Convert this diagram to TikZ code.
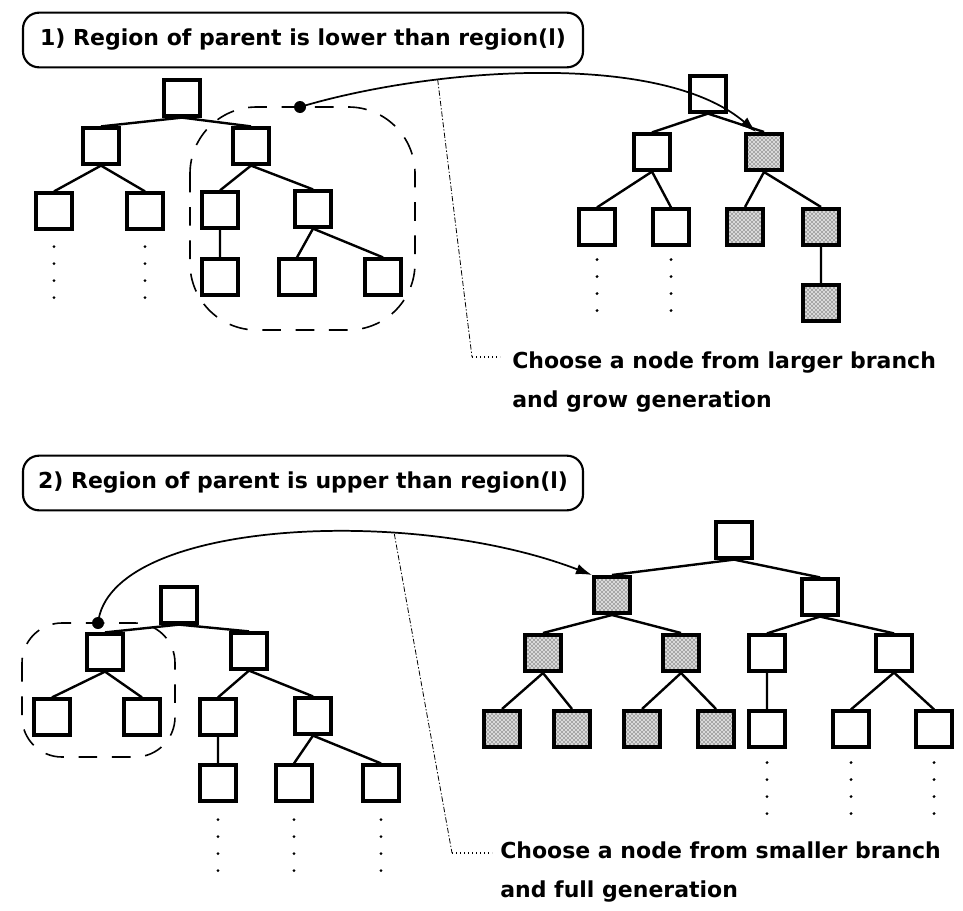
\documentclass[tikz,border=0pt]{standalone}
\usepackage{fontspec}
\setmainfont{DejaVu Sans}
\usetikzlibrary{positioning, arrows.meta, calc, patterns}

\begin{document}
\begin{tikzpicture}[
  x=0.75pt, y=-0.75pt,
  font=\bfseries\fontsize{16.5}{29}\selectfont,
  cell/.style={draw, line width=2.4pt, minimum size=27pt, inner sep=0pt},
  picked/.style={cell, line width=3pt, preaction={fill=gray!30}, pattern=crosshatch dots},
  link/.style={line width=1.8pt},
  more/.style={line width=2.4pt, line cap=round, dash pattern=on 0pt off 12.75pt},
  region/.style={dashed, line width=1.2pt, dash pattern=on 14pt off 11pt},
  blob/.style={circle, fill, inner sep=0pt, minimum size=9pt},
  jump/.style={line width=1.3pt, -{Latex[length=12pt,width=8pt]}},
  lead/.style={line width=0.6pt, dash pattern=on 4pt off 1.5pt on 1pt off 1.5pt},
  leaddot/.style={line width=0.8pt, dash pattern=on 1pt off 2pt},
  title/.style={draw, line width=1.6pt, rounded corners=12pt,
                minimum width=420pt, minimum height=41pt, inner xsep=6pt},
  note/.style={align=left, inner sep=0pt, anchor=north west}
]
\useasboundingbox (0,0) rectangle (963,910);

% ---------- case 1 ----------
\node[title] (head1) at (303,40) {1) Region of parent is lower than region(l)};

% left tree
\node[cell] (aR) at (182,98) {};
\node[cell] (aA) at (101,146) {};
\node[cell] (aB) at (251,146) {};
\node[cell] (aAL) at (54,211) {};
\node[cell] (aAR) at (145,211) {};
\node[cell] (aBL) at (220,210) {};
\node[cell] (aBR) at (313,209) {};
\node[cell] (aBLL) at (220,277) {};
\node[cell] (aBRL) at (297,277) {};
\node[cell] (aBRR) at (383,277) {};
\draw[link] (aR.south) -- (aA.north) (aR.south) -- (aB.north)
  (aA.south) -- (aAL.north) (aA.south) -- (aAR.north)
  (aB.south) -- (aBL.north) (aB.south) -- (aBR.north)
  (aBL.south) -- (aBLL.north)
  (aBR.south) -- (aBRL.north) (aBR.south) -- (aBRR.north);
\draw[more] (aAL.south) ++(0,16) -- ++(0,53);
\draw[more] (aAR.south) ++(0,16) -- ++(0,53);
\draw[region, rounded corners=50pt] (190,107) rectangle (415,330);

% right tree
\node[cell] (bR) at (708,94) {};
\node[cell] (bA) at (652,152) {};
\node[picked] (bB) at (764,152) {};
\node[cell] (bAL) at (597,227) {};
\node[cell] (bAR) at (671,227) {};
\node[picked] (bBL) at (745,227) {};
\node[picked] (bBR) at (821,227) {};
\node[picked] (bBRL) at (821,303) {};
\draw[link] (bR.south) -- (bA.north) (bR.south) -- (bB.north)
  (bA.south) -- (bAL.north) (bA.south) -- (bAR.north)
  (bB.south) -- (bBL.north) (bB.south) -- (bBR.north)
  (bBR.south) -- (bBRL.north);
\draw[more] (bAL.south) ++(0,13) -- ++(0,53);
\draw[more] (bAR.south) ++(0,13) -- ++(0,53);

% moved branch
\node[blob] (src1) at (300,107) {};
\draw[jump] (src1.center) .. controls (430,68) and (660,50) ..
  ($(bB.north west)+(12,0)$) coordinate[pos=0.3] (j1);
\node[note] (note1) at (512,352) {Choose a node from larger branch\\and grow generation};
\coordinate (k1) at (472,357);
\coordinate (e1) at (500,357);
\draw[lead] (j1) -- (k1);
\draw[leaddot] (k1) -- (e1);

% ---------- case 2 ----------
\node[title] (head2) at (303,483) {2) Region of parent is upper than region(l)};

% left tree
\node[cell] (cR) at (179,605) {};
\node[cell] (cA) at (105,652) {};
\node[cell] (cB) at (249,651) {};
\node[cell] (cAL) at (52,717) {};
\node[cell] (cAR) at (142,717) {};
\node[cell] (cBL) at (218,717) {};
\node[cell] (cBR) at (313,716) {};
\node[cell] (cBLL) at (218,783) {};
\node[cell] (cBRL) at (294,783) {};
\node[cell] (cBRR) at (381,783) {};
\draw[link] (cR.south) -- (cA.north) (cR.south) -- (cB.north)
  (cA.south) -- (cAL.north) (cA.south) -- (cAR.north)
  (cB.south) -- (cBL.north) (cB.south) -- (cBR.north)
  (cBL.south) -- (cBLL.north)
  (cBR.south) -- (cBRL.north) (cBR.south) -- (cBRR.north);
\draw[more] (cBLL.south) ++(0,17) -- ++(0,53);
\draw[more] (cBRL.south) ++(0,17) -- ++(0,53);
\draw[more] (cBRR.south) ++(0,17) -- ++(0,53);
\draw[region, rounded corners=30pt] (22,623) rectangle (175,757);

% right tree
\node[cell] (dR) at (734,540) {};
\node[picked] (dA) at (612,595) {};
\node[cell] (dB) at (820,597) {};
\node[picked] (dAL) at (543,653) {};
\node[picked] (dAR) at (681,653) {};
\node[cell] (dBL) at (767,653) {};
\node[cell] (dBR) at (894,653) {};
\node[picked] (dALL) at (502,729) {};
\node[picked] (dALR) at (572,729) {};
\node[picked] (dARL) at (642,729) {};
\node[picked] (dARR) at (716,729) {};
\node[cell] (dBLL) at (767,729) {};
\node[cell] (dBRL) at (851,729) {};
\node[cell] (dBRR) at (934,729) {};
\draw[link] (dR.south) -- (dA.north) (dR.south) -- (dB.north)
  (dA.south) -- (dAL.north) (dA.south) -- (dAR.north)
  (dB.south) -- (dBL.north) (dB.south) -- (dBR.north)
  (dAL.south) -- (dALL.north) (dAL.south) -- (dALR.north)
  (dAR.south) -- (dARL.north) (dAR.south) -- (dARR.north)
  (dBL.south) -- (dBLL.north)
  (dBR.south) -- (dBRL.north) (dBR.south) -- (dBRR.north);
\draw[more] (dBLL.south) ++(0,14) -- ++(0,53);
\draw[more] (dBRL.south) ++(0,14) -- ++(0,53);
\draw[more] (dBRR.south) ++(0,14) -- ++(0,53);

% moved branch
\node[blob] (src2) at (98,623) {};
\draw[jump] (src2.center) .. controls (110,520) and (410,505) ..
  (dA.north west) coordinate[pos=0.68] (j2);
\node[note] (note2) at (500,842) {Choose a node from smaller branch\\and full generation};
\coordinate (k2) at (452,853);
\coordinate (e2) at (492,853);
\draw[lead] (j2) -- (k2);
\draw[leaddot] (k2) -- (e2);

\end{tikzpicture}
\end{document}
